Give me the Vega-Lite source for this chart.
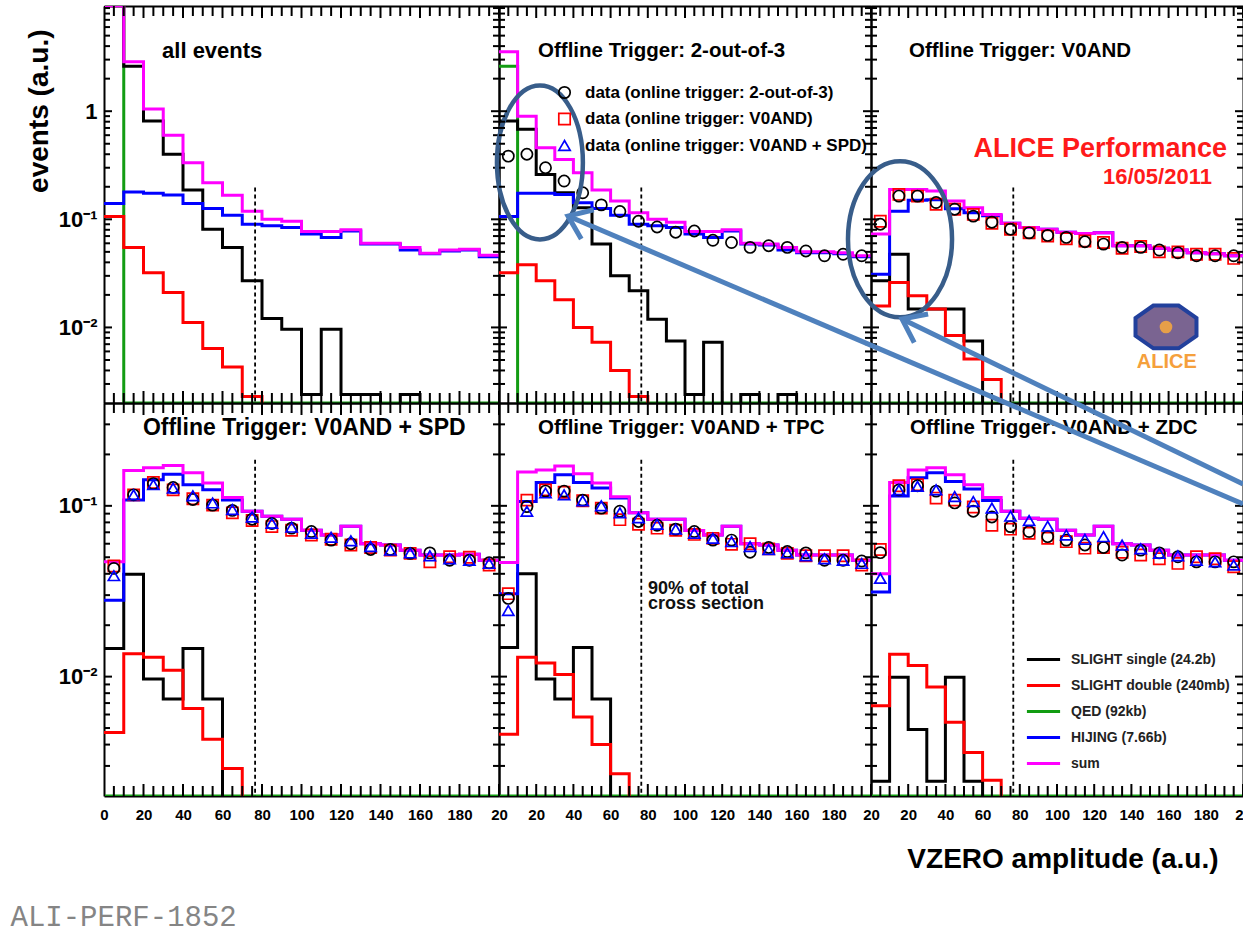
{
"$schema": "https://vega.github.io/schema/vega-lite/v6.json",
"background": "white",
"padding": {"left": 10, "top": 6, "right": 0, "bottom": 0},
"config": {"view": {"stroke": null}, "font": "Liberation Sans", "tick": {"thickness": 2, "opacity": 1, "color": "black"}},
"datasets": {
"xt": [
{"x":0,"m":"xM"},{"x":5,"m":"xm"},{"x":10,"m":"xm"},{"x":15,"m":"xm"},{"x":20,"m":"xM"},{"x":25,"m":"xm"},{"x":30,"m":"xm"},{"x":35,"m":"xm"},
{"x":40,"m":"xM"},{"x":45,"m":"xm"},{"x":50,"m":"xm"},{"x":55,"m":"xm"},{"x":60,"m":"xM"},{"x":65,"m":"xm"},{"x":70,"m":"xm"},{"x":75,"m":"xm"},
{"x":80,"m":"xM"},{"x":85,"m":"xm"},{"x":90,"m":"xm"},{"x":95,"m":"xm"},{"x":100,"m":"xM"},{"x":105,"m":"xm"},{"x":110,"m":"xm"},{"x":115,"m":"xm"},
{"x":120,"m":"xM"},{"x":125,"m":"xm"},{"x":130,"m":"xm"},{"x":135,"m":"xm"},{"x":140,"m":"xM"},{"x":145,"m":"xm"},{"x":150,"m":"xm"},{"x":155,"m":"xm"},
{"x":160,"m":"xM"},{"x":165,"m":"xm"},{"x":170,"m":"xm"},{"x":175,"m":"xm"},{"x":180,"m":"xM"},{"x":185,"m":"xm"},{"x":190,"m":"xm"},{"x":195,"m":"xm"},{"x":200,"m":"xM"}
],
"yt": [
{"y":0.003,"m":"ym"},{"y":0.004,"m":"ym"},{"y":0.005,"m":"ym"},{"y":0.006,"m":"ym"},{"y":0.007,"m":"ym"},{"y":0.008,"m":"ym"},{"y":0.009,"m":"ym"},
{"y":0.01,"m":"yM"},{"y":0.02,"m":"ym"},{"y":0.03,"m":"ym"},{"y":0.04,"m":"ym"},{"y":0.05,"m":"ym"},{"y":0.06,"m":"ym"},{"y":0.07,"m":"ym"},{"y":0.08,"m":"ym"},{"y":0.09,"m":"ym"},
{"y":0.1,"m":"yM"},{"y":0.2,"m":"ym"},{"y":0.3,"m":"ym"},{"y":0.4,"m":"ym"},{"y":0.5,"m":"ym"},{"y":0.6,"m":"ym"},{"y":0.7,"m":"ym"},{"y":0.8,"m":"ym"},{"y":0.9,"m":"ym"},
{"y":1,"m":"yM"},{"y":2,"m":"ym"},{"y":3,"m":"ym"},{"y":4,"m":"ym"},{"y":5,"m":"ym"},{"y":6,"m":"ym"},{"y":7,"m":"ym"},{"y":8,"m":"ym"},{"y":9,"m":"ym"}
],
"hist": [
{"p":1,"x":0,"s":20,"d":0.106,"q":9.4,"h":0.14,"t":9.4},
{"p":1,"x":10,"s":2.6,"d":0.055,"q":0.002,"h":0.179,"t":2.86},
{"p":1,"x":20,"s":0.81,"d":0.032,"q":0.002,"h":0.174,"t":1.05},
{"p":1,"x":30,"s":0.4,"d":0.021,"q":0.002,"h":0.168,"t":0.6},
{"p":1,"x":40,"s":0.187,"d":0.0111,"q":0.002,"h":0.14,"t":0.334},
{"p":1,"x":50,"s":0.081,"d":0.0064,"q":0.002,"h":0.126,"t":0.218},
{"p":1,"x":60,"s":0.055,"d":0.0043,"q":0.002,"h":0.109,"t":0.167},
{"p":1,"x":70,"s":0.027,"d":0.0023,"q":0.002,"h":0.09,"t":0.119},
{"p":1,"x":80,"s":0.0121,"d":0.0005,"q":0.002,"h":0.087,"t":0.1},
{"p":1,"x":90,"s":0.0096,"d":0.0005,"q":0.002,"h":0.084,"t":0.096},
{"p":1,"x":100,"s":0.0024,"d":0.0005,"q":0.002,"h":0.073,"t":0.077},
{"p":1,"x":110,"s":0.0096,"d":0.0005,"q":0.002,"h":0.068,"t":0.077},
{"p":1,"x":120,"s":0.0024,"d":0.0005,"q":0.002,"h":0.078,"t":0.08},
{"p":1,"x":130,"s":0.0024,"d":0.0005,"q":0.002,"h":0.059,"t":0.06},
{"p":1,"x":140,"s":0.0005,"d":0.0005,"q":0.002,"h":0.059,"t":0.06},
{"p":1,"x":150,"s":0.0024,"d":0.0005,"q":0.002,"h":0.052,"t":0.055},
{"p":1,"x":160,"s":0.0005,"d":0.0005,"q":0.002,"h":0.048,"t":0.0485},
{"p":1,"x":170,"s":0.0005,"d":0.0005,"q":0.002,"h":0.051,"t":0.052},
{"p":1,"x":180,"s":0.0005,"d":0.0005,"q":0.002,"h":0.052,"t":0.053},
{"p":1,"x":190,"s":0.0005,"d":0.0005,"q":0.002,"h":0.045,"t":0.0465},
{"p":1,"x":200,"s":0.0005,"d":0.0005,"q":0.002,"h":0.045,"t":0.0465},
{"p":2,"x":0,"s":0.81,"d":0.032,"q":2.6,"h":0.106,"t":3.54},
{"p":2,"x":10,"s":0.68,"d":0.038,"q":0.002,"h":0.174,"t":0.9},
{"p":2,"x":20,"s":0.26,"d":0.027,"q":0.002,"h":0.174,"t":0.46},
{"p":2,"x":30,"s":0.176,"d":0.018,"q":0.002,"h":0.17,"t":0.358},
{"p":2,"x":40,"s":0.128,"d":0.01,"q":0.002,"h":0.142,"t":0.27},
{"p":2,"x":50,"s":0.059,"d":0.0073,"q":0.002,"h":0.126,"t":0.187},
{"p":2,"x":60,"s":0.03,"d":0.004,"q":0.002,"h":0.109,"t":0.148},
{"p":2,"x":70,"s":0.0218,"d":0.0023,"q":0.002,"h":0.09,"t":0.115},
{"p":2,"x":80,"s":0.0119,"d":0.0005,"q":0.002,"h":0.087,"t":0.1},
{"p":2,"x":90,"s":0.0075,"d":0.0005,"q":0.002,"h":0.084,"t":0.094},
{"p":2,"x":100,"s":0.0024,"d":0.0005,"q":0.002,"h":0.073,"t":0.077},
{"p":2,"x":110,"s":0.0073,"d":0.0005,"q":0.002,"h":0.068,"t":0.077},
{"p":2,"x":120,"s":0.0005,"d":0.0005,"q":0.002,"h":0.078,"t":0.08},
{"p":2,"x":130,"s":0.0024,"d":0.0005,"q":0.002,"h":0.059,"t":0.06},
{"p":2,"x":140,"s":0.0005,"d":0.0005,"q":0.002,"h":0.058,"t":0.059},
{"p":2,"x":150,"s":0.0024,"d":0.0005,"q":0.002,"h":0.052,"t":0.055},
{"p":2,"x":160,"s":0.0005,"d":0.0005,"q":0.002,"h":0.049,"t":0.05},
{"p":2,"x":170,"s":0.0005,"d":0.0005,"q":0.002,"h":0.049,"t":0.05},
{"p":2,"x":180,"s":0.0005,"d":0.0005,"q":0.002,"h":0.048,"t":0.049},
{"p":2,"x":190,"s":0.0005,"d":0.0005,"q":0.002,"h":0.045,"t":0.046},
{"p":2,"x":200,"s":0.0005,"d":0.0005,"q":0.002,"h":0.045,"t":0.046},
{"p":3,"x":0,"s":0.027,"d":0.0158,"q":0.002,"h":0.031,"t":0.073},
{"p":3,"x":10,"s":0.0475,"d":0.026,"q":0.002,"h":0.119,"t":0.189},
{"p":3,"x":20,"s":0.0148,"d":0.0196,"q":0.002,"h":0.15,"t":0.189},
{"p":3,"x":30,"s":0.0148,"d":0.0148,"q":0.002,"h":0.152,"t":0.183},
{"p":3,"x":40,"s":0.0148,"d":0.0084,"q":0.002,"h":0.125,"t":0.148},
{"p":3,"x":50,"s":0.0075,"d":0.0051,"q":0.002,"h":0.115,"t":0.128},
{"p":3,"x":60,"s":0.0005,"d":0.0033,"q":0.002,"h":0.108,"t":0.111},
{"p":3,"x":70,"s":0.0005,"d":0.0005,"q":0.002,"h":0.092,"t":0.092},
{"p":3,"x":80,"s":0.0005,"d":0.0005,"q":0.002,"h":0.084,"t":0.084},
{"p":3,"x":90,"s":0.0005,"d":0.0005,"q":0.002,"h":0.081,"t":0.081},
{"p":3,"x":100,"s":0.0005,"d":0.0005,"q":0.002,"h":0.076,"t":0.076},
{"p":3,"x":110,"s":0.0005,"d":0.0005,"q":0.002,"h":0.074,"t":0.074},
{"p":3,"x":120,"s":0.0005,"d":0.0005,"q":0.002,"h":0.075,"t":0.075},
{"p":3,"x":130,"s":0.0005,"d":0.0005,"q":0.002,"h":0.057,"t":0.057},
{"p":3,"x":140,"s":0.0005,"d":0.0005,"q":0.002,"h":0.057,"t":0.057},
{"p":3,"x":150,"s":0.0005,"d":0.0005,"q":0.002,"h":0.054,"t":0.054},
{"p":3,"x":160,"s":0.0005,"d":0.0005,"q":0.002,"h":0.052,"t":0.052},
{"p":3,"x":170,"s":0.0005,"d":0.0005,"q":0.002,"h":0.049,"t":0.049},
{"p":3,"x":180,"s":0.0005,"d":0.0005,"q":0.002,"h":0.048,"t":0.048},
{"p":3,"x":190,"s":0.0005,"d":0.0005,"q":0.002,"h":0.046,"t":0.046},
{"p":3,"x":200,"s":0.0005,"d":0.0005,"q":0.002,"h":0.046,"t":0.046},
{"p":4,"x":0,"s":0.0146,"d":0.0047,"q":0.002,"h":0.028,"t":0.047},
{"p":4,"x":10,"s":0.0397,"d":0.0136,"q":0.002,"h":0.108,"t":0.161},
{"p":4,"x":20,"s":0.0097,"d":0.013,"q":0.002,"h":0.142,"t":0.167},
{"p":4,"x":30,"s":0.0074,"d":0.0109,"q":0.002,"h":0.153,"t":0.172},
{"p":4,"x":40,"s":0.0146,"d":0.0065,"q":0.002,"h":0.133,"t":0.156},
{"p":4,"x":50,"s":0.0074,"d":0.0043,"q":0.002,"h":0.124,"t":0.136},
{"p":4,"x":60,"s":0.0005,"d":0.0029,"q":0.002,"h":0.108,"t":0.112},
{"p":4,"x":70,"s":0.0005,"d":0.0005,"q":0.002,"h":0.093,"t":0.093},
{"p":4,"x":80,"s":0.0005,"d":0.0005,"q":0.002,"h":0.087,"t":0.087},
{"p":4,"x":90,"s":0.0005,"d":0.0005,"q":0.002,"h":0.0835,"t":0.0835},
{"p":4,"x":100,"s":0.0005,"d":0.0005,"q":0.002,"h":0.072,"t":0.072},
{"p":4,"x":110,"s":0.0005,"d":0.0005,"q":0.002,"h":0.0675,"t":0.0675},
{"p":4,"x":120,"s":0.0005,"d":0.0005,"q":0.002,"h":0.076,"t":0.076},
{"p":4,"x":130,"s":0.0005,"d":0.0005,"q":0.002,"h":0.06,"t":0.06},
{"p":4,"x":140,"s":0.0005,"d":0.0005,"q":0.002,"h":0.059,"t":0.059},
{"p":4,"x":150,"s":0.0005,"d":0.0005,"q":0.002,"h":0.055,"t":0.055},
{"p":4,"x":160,"s":0.0005,"d":0.0005,"q":0.002,"h":0.0515,"t":0.0515},
{"p":4,"x":170,"s":0.0005,"d":0.0005,"q":0.002,"h":0.0515,"t":0.0515},
{"p":4,"x":180,"s":0.0005,"d":0.0005,"q":0.002,"h":0.052,"t":0.052},
{"p":4,"x":190,"s":0.0005,"d":0.0005,"q":0.002,"h":0.048,"t":0.048},
{"p":4,"x":200,"s":0.0005,"d":0.0005,"q":0.002,"h":0.048,"t":0.048},
{"p":5,"x":0,"s":0.0148,"d":0.0046,"q":0.002,"h":0.0306,"t":0.0465},
{"p":5,"x":10,"s":0.04,"d":0.013,"q":0.002,"h":0.106,"t":0.158},
{"p":5,"x":20,"s":0.0097,"d":0.012,"q":0.002,"h":0.137,"t":0.162},
{"p":5,"x":30,"s":0.0074,"d":0.0103,"q":0.002,"h":0.152,"t":0.171},
{"p":5,"x":40,"s":0.0148,"d":0.0058,"q":0.002,"h":0.137,"t":0.154},
{"p":5,"x":50,"s":0.0074,"d":0.004,"q":0.002,"h":0.127,"t":0.136},
{"p":5,"x":60,"s":0.0005,"d":0.0027,"q":0.002,"h":0.111,"t":0.113},
{"p":5,"x":70,"s":0.0005,"d":0.0005,"q":0.002,"h":0.091,"t":0.091},
{"p":5,"x":80,"s":0.0005,"d":0.0005,"q":0.002,"h":0.0835,"t":0.0835},
{"p":5,"x":90,"s":0.0005,"d":0.0005,"q":0.002,"h":0.0835,"t":0.0835},
{"p":5,"x":100,"s":0.0005,"d":0.0005,"q":0.002,"h":0.0717,"t":0.0717},
{"p":5,"x":110,"s":0.0005,"d":0.0005,"q":0.002,"h":0.0675,"t":0.0675},
{"p":5,"x":120,"s":0.0005,"d":0.0005,"q":0.002,"h":0.076,"t":0.076},
{"p":5,"x":130,"s":0.0005,"d":0.0005,"q":0.002,"h":0.06,"t":0.06},
{"p":5,"x":140,"s":0.0005,"d":0.0005,"q":0.002,"h":0.059,"t":0.059},
{"p":5,"x":150,"s":0.0005,"d":0.0005,"q":0.002,"h":0.055,"t":0.055},
{"p":5,"x":160,"s":0.0005,"d":0.0005,"q":0.002,"h":0.0515,"t":0.0515},
{"p":5,"x":170,"s":0.0005,"d":0.0005,"q":0.002,"h":0.0515,"t":0.0515},
{"p":5,"x":180,"s":0.0005,"d":0.0005,"q":0.002,"h":0.0515,"t":0.0515},
{"p":5,"x":190,"s":0.0005,"d":0.0005,"q":0.002,"h":0.048,"t":0.048},
{"p":5,"x":200,"s":0.0005,"d":0.0005,"q":0.002,"h":0.048,"t":0.048},
{"p":6,"x":0,"s":0.00244,"d":0.00675,"q":0.002,"h":0.0313,"t":0.04},
{"p":6,"x":10,"s":0.0099,"d":0.0135,"q":0.002,"h":0.114,"t":0.137},
{"p":6,"x":20,"s":0.0049,"d":0.0116,"q":0.002,"h":0.146,"t":0.162},
{"p":6,"x":30,"s":0.00244,"d":0.0087,"q":0.002,"h":0.156,"t":0.167},
{"p":6,"x":40,"s":0.0099,"d":0.0054,"q":0.002,"h":0.139,"t":0.152},
{"p":6,"x":50,"s":0.00244,"d":0.0036,"q":0.002,"h":0.1254,"t":0.133},
{"p":6,"x":60,"s":0.0005,"d":0.00247,"q":0.002,"h":0.1076,"t":0.112},
{"p":6,"x":70,"s":0.0005,"d":0.0005,"q":0.002,"h":0.093,"t":0.093},
{"p":6,"x":80,"s":0.0005,"d":0.0005,"q":0.002,"h":0.0847,"t":0.0847},
{"p":6,"x":90,"s":0.0005,"d":0.0005,"q":0.002,"h":0.0835,"t":0.0835},
{"p":6,"x":100,"s":0.0005,"d":0.0005,"q":0.002,"h":0.072,"t":0.072},
{"p":6,"x":110,"s":0.0005,"d":0.0005,"q":0.002,"h":0.0675,"t":0.0675},
{"p":6,"x":120,"s":0.0005,"d":0.0005,"q":0.002,"h":0.076,"t":0.076},
{"p":6,"x":130,"s":0.0005,"d":0.0005,"q":0.002,"h":0.06,"t":0.06},
{"p":6,"x":140,"s":0.0005,"d":0.0005,"q":0.002,"h":0.059,"t":0.059},
{"p":6,"x":150,"s":0.0005,"d":0.0005,"q":0.002,"h":0.055,"t":0.055},
{"p":6,"x":160,"s":0.0005,"d":0.0005,"q":0.002,"h":0.0515,"t":0.0515},
{"p":6,"x":170,"s":0.0005,"d":0.0005,"q":0.002,"h":0.0515,"t":0.0515},
{"p":6,"x":180,"s":0.0005,"d":0.0005,"q":0.002,"h":0.0515,"t":0.0515},
{"p":6,"x":190,"s":0.0005,"d":0.0005,"q":0.002,"h":0.048,"t":0.048},
{"p":6,"x":200,"s":0.0005,"d":0.0005,"q":0.002,"h":0.048,"t":0.048}
],
"pts": [
{"p":2,"x":5,"a":0.384},{"p":2,"x":15,"a":0.4},{"p":2,"x":25,"a":0.3},{"p":2,"x":35,"a":0.226},{"p":2,"x":45,"a":0.176},
{"p":2,"x":55,"a":0.136},{"p":2,"x":65,"a":0.118},{"p":2,"x":75,"a":0.096},{"p":2,"x":85,"a":0.085},{"p":2,"x":95,"a":0.076},
{"p":2,"x":105,"a":0.078},{"p":2,"x":115,"a":0.064},{"p":2,"x":125,"a":0.061},{"p":2,"x":135,"a":0.055},{"p":2,"x":145,"a":0.057},
{"p":2,"x":155,"a":0.055},{"p":2,"x":165,"a":0.051},{"p":2,"x":175,"a":0.046},{"p":2,"x":185,"a":0.0475},{"p":2,"x":195,"a":0.046},
{"p":3,"x":5,"a":0.09,"v":0.096},{"p":3,"x":15,"a":0.164,"v":0.17},{"p":3,"x":25,"a":0.164,"v":0.164},{"p":3,"x":35,"a":0.143,"v":0.138},
{"p":3,"x":45,"a":0.124,"v":0.124},{"p":3,"x":55,"a":0.107,"v":0.111},{"p":3,"x":65,"a":0.094,"v":0.092},{"p":3,"x":75,"a":0.081,"v":0.081},
{"p":3,"x":85,"a":0.075,"v":0.075},{"p":3,"x":95,"a":0.071,"v":0.07},{"p":3,"x":105,"a":0.068,"v":0.066},{"p":3,"x":115,"a":0.062,"v":0.063},
{"p":3,"x":125,"a":0.059,"v":0.061},{"p":3,"x":135,"a":0.055,"v":0.054},{"p":3,"x":145,"a":0.055,"v":0.056},{"p":3,"x":155,"a":0.052,"v":0.05},
{"p":3,"x":165,"a":0.049,"v":0.05},{"p":3,"x":175,"a":0.046,"v":0.0475},{"p":3,"x":185,"a":0.046,"v":0.0475},{"p":3,"x":195,"a":0.046,"v":0.0435},
{"p":4,"x":5,"a":0.043,"v":0.0445,"sp":0.039},{"p":4,"x":15,"a":0.116,"v":0.116,"sp":0.116},{"p":4,"x":25,"a":0.135,"v":0.137,"sp":0.133},
{"p":4,"x":35,"a":0.128,"v":0.124,"sp":0.127},{"p":4,"x":45,"a":0.109,"v":0.11,"sp":0.1145},{"p":4,"x":55,"a":0.101,"v":0.101,"sp":0.104},
{"p":4,"x":65,"a":0.094,"v":0.091,"sp":0.095},{"p":4,"x":75,"a":0.0835,"v":0.082,"sp":0.086},{"p":4,"x":85,"a":0.0788,"v":0.0756,"sp":0.079},
{"p":4,"x":95,"a":0.074,"v":0.072,"sp":0.075},{"p":4,"x":105,"a":0.0707,"v":0.0675,"sp":0.069},{"p":4,"x":115,"a":0.063,"v":0.0637,"sp":0.0655},
{"p":4,"x":125,"a":0.06,"v":0.059,"sp":0.0625},{"p":4,"x":135,"a":0.0555,"v":0.057,"sp":0.0577},{"p":4,"x":145,"a":0.0555,"v":0.055,"sp":0.055},
{"p":4,"x":155,"a":0.0527,"v":0.0527,"sp":0.053},{"p":4,"x":165,"a":0.053,"v":0.047,"sp":0.051},{"p":4,"x":175,"a":0.048,"v":0.0503,"sp":0.049},
{"p":4,"x":185,"a":0.048,"v":0.05,"sp":0.048},{"p":4,"x":195,"a":0.0464,"v":0.045,"sp":0.046},
{"p":5,"x":5,"a":0.0287,"v":0.0306,"sp":0.0244},{"p":5,"x":15,"a":0.099,"v":0.108,"sp":0.093},{"p":5,"x":25,"a":0.122,"v":0.124,"sp":0.119},
{"p":5,"x":35,"a":0.122,"v":0.12,"sp":0.116},{"p":5,"x":45,"a":0.108,"v":0.107,"sp":0.107},{"p":5,"x":55,"a":0.097,"v":0.097,"sp":0.1},
{"p":5,"x":65,"a":0.093,"v":0.083,"sp":0.091},{"p":5,"x":75,"a":0.081,"v":0.078,"sp":0.085},{"p":5,"x":85,"a":0.077,"v":0.074,"sp":0.078},
{"p":5,"x":95,"a":0.073,"v":0.072,"sp":0.073},{"p":5,"x":105,"a":0.0707,"v":0.068,"sp":0.069},{"p":5,"x":115,"a":0.063,"v":0.0645,"sp":0.0645},
{"p":5,"x":125,"a":0.063,"v":0.0595,"sp":0.0617},{"p":5,"x":135,"a":0.0535,"v":0.06,"sp":0.0577},{"p":5,"x":145,"a":0.057,"v":0.056,"sp":0.0555},
{"p":5,"x":155,"a":0.054,"v":0.0527,"sp":0.053},{"p":5,"x":165,"a":0.053,"v":0.051,"sp":0.051},{"p":5,"x":175,"a":0.048,"v":0.051,"sp":0.049},
{"p":5,"x":185,"a":0.048,"v":0.051,"sp":0.048},{"p":5,"x":195,"a":0.0475,"v":0.045,"sp":0.046},
{"p":6,"x":5,"a":0.0532,"v":0.0555,"sp":0.0376},{"p":6,"x":15,"a":0.124,"v":0.131,"sp":0.124},{"p":6,"x":25,"a":0.131,"v":0.133,"sp":0.13},
{"p":6,"x":35,"a":0.122,"v":0.111,"sp":0.124},{"p":6,"x":45,"a":0.104,"v":0.108,"sp":0.1135},{"p":6,"x":55,"a":0.093,"v":0.0985,"sp":0.106},
{"p":6,"x":65,"a":0.086,"v":0.077,"sp":0.097},{"p":6,"x":75,"a":0.0756,"v":0.073,"sp":0.087},{"p":6,"x":85,"a":0.0707,"v":0.069,"sp":0.082},
{"p":6,"x":95,"a":0.066,"v":0.0645,"sp":0.076},{"p":6,"x":105,"a":0.063,"v":0.0617,"sp":0.0675},{"p":6,"x":115,"a":0.059,"v":0.0565,"sp":0.0637},
{"p":6,"x":125,"a":0.057,"v":0.057,"sp":0.066},{"p":6,"x":135,"a":0.0515,"v":0.0535,"sp":0.059},{"p":6,"x":145,"a":0.055,"v":0.0515,"sp":0.056},
{"p":6,"x":155,"a":0.053,"v":0.049,"sp":0.0527},{"p":6,"x":165,"a":0.0503,"v":0.046,"sp":0.051},{"p":6,"x":175,"a":0.047,"v":0.0503,"sp":0.048},
{"p":6,"x":185,"a":0.047,"v":0.049,"sp":0.047},{"p":6,"x":195,"a":0.047,"v":0.044,"sp":0.045}
]
},
"columns": 3,
"spacing": 0,
"bounds": "flush",
"resolve": {"scale": {"color": "independent", "stroke": "independent", "shape": "independent"}},
"concat": [
{
"width": 395, "height": 397,
"layer": [
{"data": {"name": "hist"}, "transform": [{"filter": "datum.p == 1"}, {"fold": ["q"], "as": ["k", "v"]}],
 "mark": {"type": "line", "interpolate": "step-after", "strokeWidth": 3, "clip": true},
 "encoding": {
  "x": {"field": "x", "type": "quantitative", "scale": {"domain": [0, 200], "nice": false, "zero": false},
   "axis": {"orient": "bottom", "ticks": false, "domain": true, "domainColor": "black", "domainWidth": 2, "grid": false, "labels": false, "title": null}},
  "y": {"field": "v", "type": "quantitative", "scale": {"type": "log", "domain": [0.002, 9.4], "nice": false},
   "axis": {"orient": "left", "values": [0.01, 0.1, 1], "ticks": false, "domain": true, "domainColor": "black", "domainWidth": 2, "grid": false,
    "labelExpr": "datum.value == 1 ? '1' : datum.value == 0.1 ? '10⁻¹' : '10⁻²'", "labelPadding": 7, "labelFont": "Liberation Sans", "labelFontWeight": "bold", "labelFontSize": 22, "labelColor": "black", "labelOverlap": false, "labelFlush": false, "labelBound": false,
    "title": "events (a.u.)", "titleFont": "Liberation Sans", "titleFontSize": 28, "titleFontWeight": "bold", "titleColor": "black", "titleAnchor": "end", "titleAlign": "right", "titleBaseline": "bottom", "titleX": -51, "titleY": 23}},
  "color": {"field": "k", "type": "nominal", "scale": {"domain": ["s","d","q","h","t"], "range": ["#000000","#ff0000","#129c12","#0000ff","#ff00ff"]}, "legend": null}
 }},
{"data": {"name": "hist"}, "transform": [{"filter": "datum.p == 1"}, {"fold": ["s","d","h","t"], "as": ["k", "v"]}],
 "mark": {"type": "line", "interpolate": "step-after", "strokeWidth": 3, "clip": true},
 "encoding": {
  "x": {"field": "x", "type": "quantitative", "scale": {"domain": [0, 200], "nice": false, "zero": false},
   "axis": {"orient": "top", "ticks": false, "domain": true, "domainColor": "black", "domainWidth": 2, "grid": false, "labels": false, "title": null}},
  "y": {"field": "v", "type": "quantitative", "scale": {"type": "log", "domain": [0.002, 9.4], "nice": false},
   "axis": {"orient": "right", "ticks": false, "domain": true, "domainColor": "black", "domainWidth": 2, "grid": false, "labels": false, "title": null}},
  "color": {"field": "k", "type": "nominal", "scale": {"domain": ["s","d","q","h","t"], "range": ["#000000","#ff0000","#129c12","#0000ff","#ff00ff"]}, "legend": null}
 }},
{"data": {"values": [{}]},
 "mark": {"type": "rule", "strokeDash": [4, 3], "strokeWidth": 1.8, "color": "black"},
 "encoding": {
  "x": {"datum": 76.5, "type": "quantitative", "scale": {"domain": [0, 200], "nice": false, "zero": false}, "axis": null},
  "y": {"datum": 0.197, "type": "quantitative", "scale": {"type": "log", "domain": [0.002, 9.4], "nice": false}, "axis": null},
  "y2": {"datum": 0.002}
 }},
{"data": {"values": [{}]},
 "mark": {"type": "text", "text": "all events", "align": "left", "baseline": "middle", "font": "Liberation Sans", "fontSize": 22, "fontWeight": "bold", "color": "black"},
 "encoding": {
  "x": {"datum": 29.4, "type": "quantitative", "scale": {"domain": [0, 200], "nice": false, "zero": false}, "axis": null},
  "y": {"datum": 3.6, "type": "quantitative", "scale": {"type": "log", "domain": [0.002, 9.4], "nice": false}, "axis": null}
 }},
{"data": {"name": "xt"}, "mark": {"type": "tick", "orient": "vertical", "thickness": 2, "color": "black", "opacity": 1, "clip": true},
 "encoding": {
  "x": {"field": "x", "type": "quantitative", "scale": {"domain": [0, 200], "nice": false, "zero": false}, "axis": null},
  "y": {"datum": 0.002, "type": "quantitative", "scale": {"type": "log", "domain": [0.002, 9.4], "nice": false}, "axis": null},
  "size": {"field": "m", "type": "nominal", "scale": {"domain": ["xM","xm","yM","ym"], "range": [24, 12, 30, 15]}, "legend": null}
 }},
{"data": {"name": "xt"}, "mark": {"type": "tick", "orient": "vertical", "thickness": 2, "color": "black", "opacity": 1, "clip": true},
 "encoding": {
  "x": {"field": "x", "type": "quantitative", "scale": {"domain": [0, 200], "nice": false, "zero": false}, "axis": null},
  "y": {"datum": 9.4, "type": "quantitative", "scale": {"type": "log", "domain": [0.002, 9.4], "nice": false}, "axis": null},
  "size": {"field": "m", "type": "nominal", "scale": {"domain": ["xM","xm","yM","ym"], "range": [24, 12, 30, 15]}, "legend": null}
 }},
{"data": {"name": "yt"}, "mark": {"type": "tick", "orient": "horizontal", "thickness": 2, "color": "black", "opacity": 1, "clip": true},
 "encoding": {
  "y": {"field": "y", "type": "quantitative", "scale": {"type": "log", "domain": [0.002, 9.4], "nice": false}, "axis": null},
  "x": {"datum": 0, "type": "quantitative", "scale": {"domain": [0, 200], "nice": false, "zero": false}, "axis": null},
  "size": {"field": "m", "type": "nominal", "scale": {"domain": ["xM","xm","yM","ym"], "range": [24, 12, 30, 15]}, "legend": null}
 }},
{"data": {"name": "yt"}, "mark": {"type": "tick", "orient": "horizontal", "thickness": 2, "color": "black", "opacity": 1, "clip": true},
 "encoding": {
  "y": {"field": "y", "type": "quantitative", "scale": {"type": "log", "domain": [0.002, 9.4], "nice": false}, "axis": null},
  "x": {"datum": 200, "type": "quantitative", "scale": {"domain": [0, 200], "nice": false, "zero": false}, "axis": null},
  "size": {"field": "m", "type": "nominal", "scale": {"domain": ["xM","xm","yM","ym"], "range": [24, 12, 30, 15]}, "legend": null}
 }}
],
"resolve": {"axis": {"x": "independent", "y": "independent"}}
},
{
"width": 372, "height": 397,
"layer": [
{"data": {"name": "hist"}, "transform": [{"filter": "datum.p == 2"}, {"fold": ["q"], "as": ["k", "v"]}],
 "mark": {"type": "line", "interpolate": "step-after", "strokeWidth": 3, "clip": true},
 "encoding": {
  "x": {"field": "x", "type": "quantitative", "scale": {"domain": [0, 200], "nice": false, "zero": false},
   "axis": {"orient": "bottom", "ticks": false, "domain": true, "domainColor": "black", "domainWidth": 2, "grid": false, "labels": false, "title": null}},
  "y": {"field": "v", "type": "quantitative", "scale": {"type": "log", "domain": [0.002, 9.4], "nice": false},
   "axis": {"orient": "left", "ticks": false, "domain": true, "domainColor": "black", "domainWidth": 2, "grid": false, "labels": false, "title": null}},
  "color": {"field": "k", "type": "nominal", "scale": {"domain": ["s","d","q","h","t"], "range": ["#000000","#ff0000","#129c12","#0000ff","#ff00ff"]}, "legend": null}
 }},
{"data": {"name": "hist"}, "transform": [{"filter": "datum.p == 2"}, {"fold": ["s","d","h","t"], "as": ["k", "v"]}],
 "mark": {"type": "line", "interpolate": "step-after", "strokeWidth": 3, "clip": true},
 "encoding": {
  "x": {"field": "x", "type": "quantitative", "scale": {"domain": [0, 200], "nice": false, "zero": false},
   "axis": {"orient": "top", "ticks": false, "domain": true, "domainColor": "black", "domainWidth": 2, "grid": false, "labels": false, "title": null}},
  "y": {"field": "v", "type": "quantitative", "scale": {"type": "log", "domain": [0.002, 9.4], "nice": false},
   "axis": {"orient": "right", "ticks": false, "domain": true, "domainColor": "black", "domainWidth": 2, "grid": false, "labels": false, "title": null}},
  "color": {"field": "k", "type": "nominal", "scale": {"domain": ["s","d","q","h","t"], "range": ["#000000","#ff0000","#129c12","#0000ff","#ff00ff"]}, "legend": null}
 }},
{"data": {"values": [{}]},
 "mark": {"type": "rule", "strokeDash": [4, 3], "strokeWidth": 1.8, "color": "black"},
 "encoding": {
  "x": {"datum": 76.5, "type": "quantitative", "scale": {"domain": [0, 200], "nice": false, "zero": false}, "axis": null},
  "y": {"datum": 0.197, "type": "quantitative", "scale": {"type": "log", "domain": [0.002, 9.4], "nice": false}, "axis": null},
  "y2": {"datum": 0.002}
 }},
{"data": {"values": [{}]},
 "mark": {"type": "text", "text": "Offline Trigger: 2-out-of-3", "align": "left", "baseline": "middle", "font": "Liberation Sans", "fontSize": 20.5, "fontWeight": "bold", "color": "black"},
 "encoding": {
  "x": {"datum": 21, "type": "quantitative", "scale": {"domain": [0, 200], "nice": false, "zero": false}, "axis": null},
  "y": {"datum": 3.6, "type": "quantitative", "scale": {"type": "log", "domain": [0.002, 9.4], "nice": false}, "axis": null}
 }},
{"data": {"name": "pts"}, "transform": [{"filter": "datum.p == 2"}, {"fold": ["v","a","sp"], "as": ["k", "val"]}, {"filter": "isValid(datum.val)"}],
 "mark": {"type": "point", "filled": false, "size": 125, "strokeWidth": 1.7, "opacity": 1},
 "encoding": {
  "x": {"field": "x", "type": "quantitative", "scale": {"domain": [0, 200], "nice": false, "zero": false}, "axis": null},
  "y": {"field": "val", "type": "quantitative", "scale": {"type": "log", "domain": [0.002, 9.4], "nice": false}, "axis": null},
  "shape": {"field": "k", "type": "nominal", "scale": {"domain": ["a","v","sp"], "range": ["circle","square","triangle-up"]},
   "legend": {"orient": "none", "legendX": 57, "legendY": 78, "title": null, "padding": 0, "labelExpr": "datum.label == 'a' ? 'data (online trigger: 2-out-of-3)' : datum.label == 'v' ? 'data (online trigger: V0AND)' : 'data (online trigger: V0AND + SPD)'", "labelFont": "Liberation Sans", "labelFontSize": 17, "labelFontWeight": "bold", "labelColor": "black", "labelLimit": 400, "labelOffset": 12, "symbolSize": 130, "symbolStrokeWidth": 1.7, "symbolFillColor": "transparent", "rowPadding": 7.5}},
  "stroke": {"field": "k", "type": "nominal", "scale": {"domain": ["a","v","sp"], "range": ["black","red","blue"]},
   "legend": {"orient": "none", "legendX": 57, "legendY": 78, "title": null, "padding": 0, "labelExpr": "datum.label == 'a' ? 'data (online trigger: 2-out-of-3)' : datum.label == 'v' ? 'data (online trigger: V0AND)' : 'data (online trigger: V0AND + SPD)'", "labelFont": "Liberation Sans", "labelFontSize": 17, "labelFontWeight": "bold", "labelColor": "black", "labelLimit": 400, "labelOffset": 12, "symbolSize": 130, "symbolStrokeWidth": 1.7, "symbolFillColor": "transparent", "rowPadding": 7.5}}
 }},
{"data": {"values": [{}]},
 "mark": {"type": "point", "shape": "M0,-1C0.308,-1,0.558,-0.552,0.558,0C0.558,0.552,0.308,1,0,1C-0.308,1,-0.558,0.552,-0.558,0C-0.558,-0.552,-0.308,-1,0,-1Z", "size": 23716, "filled": false, "stroke": "#385d8a", "strokeWidth": 4.5, "opacity": 1},
 "encoding": {
  "x": {"datum": 22, "type": "quantitative", "scale": {"domain": [0, 200], "nice": false, "zero": false}, "axis": null},
  "y": {"datum": 0.336, "type": "quantitative", "scale": {"type": "log", "domain": [0.002, 9.4], "nice": false}, "axis": null}
 }},
{"data": {"name": "xt"}, "mark": {"type": "tick", "orient": "vertical", "thickness": 2, "color": "black", "opacity": 1, "clip": true},
 "encoding": {
  "x": {"field": "x", "type": "quantitative", "scale": {"domain": [0, 200], "nice": false, "zero": false}, "axis": null},
  "y": {"datum": 0.002, "type": "quantitative", "scale": {"type": "log", "domain": [0.002, 9.4], "nice": false}, "axis": null},
  "size": {"field": "m", "type": "nominal", "scale": {"domain": ["xM","xm","yM","ym"], "range": [24, 12, 30, 15]}, "legend": null}
 }},
{"data": {"name": "xt"}, "mark": {"type": "tick", "orient": "vertical", "thickness": 2, "color": "black", "opacity": 1, "clip": true},
 "encoding": {
  "x": {"field": "x", "type": "quantitative", "scale": {"domain": [0, 200], "nice": false, "zero": false}, "axis": null},
  "y": {"datum": 9.4, "type": "quantitative", "scale": {"type": "log", "domain": [0.002, 9.4], "nice": false}, "axis": null},
  "size": {"field": "m", "type": "nominal", "scale": {"domain": ["xM","xm","yM","ym"], "range": [24, 12, 30, 15]}, "legend": null}
 }},
{"data": {"name": "yt"}, "mark": {"type": "tick", "orient": "horizontal", "thickness": 2, "color": "black", "opacity": 1, "clip": true},
 "encoding": {
  "y": {"field": "y", "type": "quantitative", "scale": {"type": "log", "domain": [0.002, 9.4], "nice": false}, "axis": null},
  "x": {"datum": 0, "type": "quantitative", "scale": {"domain": [0, 200], "nice": false, "zero": false}, "axis": null},
  "size": {"field": "m", "type": "nominal", "scale": {"domain": ["xM","xm","yM","ym"], "range": [24, 12, 30, 15]}, "legend": null}
 }},
{"data": {"name": "yt"}, "mark": {"type": "tick", "orient": "horizontal", "thickness": 2, "color": "black", "opacity": 1, "clip": true},
 "encoding": {
  "y": {"field": "y", "type": "quantitative", "scale": {"type": "log", "domain": [0.002, 9.4], "nice": false}, "axis": null},
  "x": {"datum": 200, "type": "quantitative", "scale": {"domain": [0, 200], "nice": false, "zero": false}, "axis": null},
  "size": {"field": "m", "type": "nominal", "scale": {"domain": ["xM","xm","yM","ym"], "range": [24, 12, 30, 15]}, "legend": null}
 }}
],
"resolve": {"axis": {"x": "independent", "y": "independent"}}
},
{
"width": 372, "height": 397,
"layer": [
{"data": {"name": "hist"}, "transform": [{"filter": "datum.p == 3"}, {"fold": ["q"], "as": ["k", "v"]}],
 "mark": {"type": "line", "interpolate": "step-after", "strokeWidth": 3, "clip": true},
 "encoding": {
  "x": {"field": "x", "type": "quantitative", "scale": {"domain": [0, 200], "nice": false, "zero": false},
   "axis": {"orient": "bottom", "ticks": false, "domain": true, "domainColor": "black", "domainWidth": 2, "grid": false, "labels": false, "title": null}},
  "y": {"field": "v", "type": "quantitative", "scale": {"type": "log", "domain": [0.002, 9.4], "nice": false},
   "axis": {"orient": "left", "ticks": false, "domain": true, "domainColor": "black", "domainWidth": 2, "grid": false, "labels": false, "title": null}},
  "color": {"field": "k", "type": "nominal", "scale": {"domain": ["s","d","q","h","t"], "range": ["#000000","#ff0000","#129c12","#0000ff","#ff00ff"]}, "legend": null}
 }},
{"data": {"name": "hist"}, "transform": [{"filter": "datum.p == 3"}, {"fold": ["s","d","h","t"], "as": ["k", "v"]}],
 "mark": {"type": "line", "interpolate": "step-after", "strokeWidth": 3, "clip": true},
 "encoding": {
  "x": {"field": "x", "type": "quantitative", "scale": {"domain": [0, 200], "nice": false, "zero": false},
   "axis": {"orient": "top", "ticks": false, "domain": true, "domainColor": "black", "domainWidth": 2, "grid": false, "labels": false, "title": null}},
  "y": {"field": "v", "type": "quantitative", "scale": {"type": "log", "domain": [0.002, 9.4], "nice": false},
   "axis": {"orient": "right", "ticks": false, "domain": true, "domainColor": "black", "domainWidth": 2, "grid": false, "labels": false, "title": null}},
  "color": {"field": "k", "type": "nominal", "scale": {"domain": ["s","d","q","h","t"], "range": ["#000000","#ff0000","#129c12","#0000ff","#ff00ff"]}, "legend": null}
 }},
{"data": {"values": [{}]},
 "mark": {"type": "rule", "strokeDash": [4, 3], "strokeWidth": 1.8, "color": "black"},
 "encoding": {
  "x": {"datum": 76.5, "type": "quantitative", "scale": {"domain": [0, 200], "nice": false, "zero": false}, "axis": null},
  "y": {"datum": 0.197, "type": "quantitative", "scale": {"type": "log", "domain": [0.002, 9.4], "nice": false}, "axis": null},
  "y2": {"datum": 0.002}
 }},
{"data": {"values": [{}]},
 "mark": {"type": "text", "text": "Offline Trigger: V0AND", "align": "left", "baseline": "middle", "font": "Liberation Sans", "fontSize": 20.5, "fontWeight": "bold", "color": "black"},
 "encoding": {
  "x": {"datum": 20.4, "type": "quantitative", "scale": {"domain": [0, 200], "nice": false, "zero": false}, "axis": null},
  "y": {"datum": 3.6, "type": "quantitative", "scale": {"type": "log", "domain": [0.002, 9.4], "nice": false}, "axis": null}
 }},
{"data": {"name": "pts"}, "transform": [{"filter": "datum.p == 3"}, {"fold": ["v","a","sp"], "as": ["k", "val"]}, {"filter": "isValid(datum.val)"}],
 "mark": {"type": "point", "filled": false, "size": 125, "strokeWidth": 1.7, "opacity": 1},
 "encoding": {
  "x": {"field": "x", "type": "quantitative", "scale": {"domain": [0, 200], "nice": false, "zero": false}, "axis": null},
  "y": {"field": "val", "type": "quantitative", "scale": {"type": "log", "domain": [0.002, 9.4], "nice": false}, "axis": null},
  "shape": {"field": "k", "type": "nominal", "scale": {"domain": ["a","v","sp"], "range": ["circle","square","triangle-up"]}, "legend": null},
  "stroke": {"field": "k", "type": "nominal", "scale": {"domain": ["a","v","sp"], "range": ["black","red","blue"]}, "legend": null}
 }},
{"data": {"values": [{}]},
 "mark": {"type": "text", "text": "ALICE Performance", "align": "right", "baseline": "middle", "font": "Liberation Sans", "fontSize": 27, "fontWeight": "bold", "color": "#ff1a1a"},
 "encoding": {
  "x": {"datum": 191.4, "type": "quantitative", "scale": {"domain": [0, 200], "nice": false, "zero": false}, "axis": null},
  "y": {"datum": 0.443, "type": "quantitative", "scale": {"type": "log", "domain": [0.002, 9.4], "nice": false}, "axis": null}
 }},
{"data": {"values": [{}]},
 "mark": {"type": "text", "text": "16/05/2011", "align": "right", "baseline": "middle", "font": "Liberation Sans", "fontSize": 22, "fontWeight": "bold", "color": "#ff1a1a"},
 "encoding": {
  "x": {"datum": 183.3, "type": "quantitative", "scale": {"domain": [0, 200], "nice": false, "zero": false}, "axis": null},
  "y": {"datum": 0.244, "type": "quantitative", "scale": {"type": "log", "domain": [0.002, 9.4], "nice": false}, "axis": null}
 }},
{"data": {"values": [{}]},
 "mark": {"type": "point", "shape": "M0.924,0.268L0.383,0.647L-0.383,0.647L-0.924,0.268L-0.924,-0.268L-0.383,-0.647L0.383,-0.647L0.924,-0.268Z", "size": 4356, "filled": true, "fill": "#7a6491", "stroke": "#22409c", "strokeWidth": 4, "opacity": 1},
 "encoding": {
  "x": {"datum": 158.6, "type": "quantitative", "scale": {"domain": [0, 200], "nice": false, "zero": false}, "axis": null},
  "y": {"datum": 0.0101, "type": "quantitative", "scale": {"type": "log", "domain": [0.002, 9.4], "nice": false}, "axis": null}
 }},
{"data": {"values": [{}]},
 "mark": {"type": "point", "shape": "circle", "size": 160, "filled": true, "fill": "#f2a541", "opacity": 0.9},
 "encoding": {
  "x": {"datum": 158.6, "type": "quantitative", "scale": {"domain": [0, 200], "nice": false, "zero": false}, "axis": null},
  "y": {"datum": 0.0101, "type": "quantitative", "scale": {"type": "log", "domain": [0.002, 9.4], "nice": false}, "axis": null}
 }},
{"data": {"values": [{}]},
 "mark": {"type": "text", "text": "ALICE", "align": "center", "baseline": "middle", "font": "Liberation Sans", "fontSize": 20, "fontWeight": "bold", "color": "#f5a03c"},
 "encoding": {
  "x": {"datum": 159, "type": "quantitative", "scale": {"domain": [0, 200], "nice": false, "zero": false}, "axis": null},
  "y": {"datum": 0.00478, "type": "quantitative", "scale": {"type": "log", "domain": [0.002, 9.4], "nice": false}, "axis": null}
 }},
{"data": {"values": [{}]},
 "mark": {"type": "point", "shape": "M0,-1C0.368,-1,0.667,-0.552,0.667,0C0.667,0.552,0.368,1,0,1C-0.368,1,-0.667,0.552,-0.667,0C-0.667,-0.552,-0.368,-1,0,-1Z", "size": 24336, "filled": false, "stroke": "#385d8a", "strokeWidth": 4.5, "opacity": 1},
 "encoding": {
  "x": {"datum": 15.6, "type": "quantitative", "scale": {"domain": [0, 200], "nice": false, "zero": false}, "axis": null},
  "y": {"datum": 0.0654, "type": "quantitative", "scale": {"type": "log", "domain": [0.002, 9.4], "nice": false}, "axis": null}
 }},
{"data": {"name": "xt"}, "mark": {"type": "tick", "orient": "vertical", "thickness": 2, "color": "black", "opacity": 1, "clip": true},
 "encoding": {
  "x": {"field": "x", "type": "quantitative", "scale": {"domain": [0, 200], "nice": false, "zero": false}, "axis": null},
  "y": {"datum": 0.002, "type": "quantitative", "scale": {"type": "log", "domain": [0.002, 9.4], "nice": false}, "axis": null},
  "size": {"field": "m", "type": "nominal", "scale": {"domain": ["xM","xm","yM","ym"], "range": [24, 12, 30, 15]}, "legend": null}
 }},
{"data": {"name": "xt"}, "mark": {"type": "tick", "orient": "vertical", "thickness": 2, "color": "black", "opacity": 1, "clip": true},
 "encoding": {
  "x": {"field": "x", "type": "quantitative", "scale": {"domain": [0, 200], "nice": false, "zero": false}, "axis": null},
  "y": {"datum": 9.4, "type": "quantitative", "scale": {"type": "log", "domain": [0.002, 9.4], "nice": false}, "axis": null},
  "size": {"field": "m", "type": "nominal", "scale": {"domain": ["xM","xm","yM","ym"], "range": [24, 12, 30, 15]}, "legend": null}
 }},
{"data": {"name": "yt"}, "mark": {"type": "tick", "orient": "horizontal", "thickness": 2, "color": "black", "opacity": 1, "clip": true},
 "encoding": {
  "y": {"field": "y", "type": "quantitative", "scale": {"type": "log", "domain": [0.002, 9.4], "nice": false}, "axis": null},
  "x": {"datum": 0, "type": "quantitative", "scale": {"domain": [0, 200], "nice": false, "zero": false}, "axis": null},
  "size": {"field": "m", "type": "nominal", "scale": {"domain": ["xM","xm","yM","ym"], "range": [24, 12, 30, 15]}, "legend": null}
 }},
{"data": {"name": "yt"}, "mark": {"type": "tick", "orient": "horizontal", "thickness": 2, "color": "black", "opacity": 1, "clip": true},
 "encoding": {
  "y": {"field": "y", "type": "quantitative", "scale": {"type": "log", "domain": [0.002, 9.4], "nice": false}, "axis": null},
  "x": {"datum": 200, "type": "quantitative", "scale": {"domain": [0, 200], "nice": false, "zero": false}, "axis": null},
  "size": {"field": "m", "type": "nominal", "scale": {"domain": ["xM","xm","yM","ym"], "range": [24, 12, 30, 15]}, "legend": null}
 }}
],
"resolve": {"axis": {"x": "independent", "y": "independent"}}
},
{
"width": 395, "height": 393,
"layer": [
{"data": {"name": "hist"}, "transform": [{"filter": "datum.p == 4"}, {"fold": ["q"], "as": ["k", "v"]}],
 "mark": {"type": "line", "interpolate": "step-after", "strokeWidth": 3, "clip": true},
 "encoding": {
  "x": {"field": "x", "type": "quantitative", "scale": {"domain": [0, 200], "nice": false, "zero": false},
   "axis": {"orient": "bottom", "values": [0,20,40,60,80,100,120,140,160,180,200], "ticks": false, "domain": true, "domainColor": "black", "domainWidth": 2, "grid": false,
    "labelExpr": "datum.value == 200 ? '20' : datum.label", "labelPadding": 11, "labelFont": "Liberation Sans", "labelFontWeight": "bold", "labelFontSize": 15, "labelColor": "black", "labelOverlap": false, "labelFlush": false, "labelBound": false,
    "title": "ALI-PERF-1852", "titleFont": "Liberation Mono", "titleFontSize": 29, "titleFontWeight": "normal", "titleColor": "#858585", "titleAnchor": "start", "titleAlign": "left", "titleBaseline": "alphabetic", "titleX": -94, "titleY": 129}},
  "y": {"field": "v", "type": "quantitative", "scale": {"type": "log", "domain": [0.002, 0.4], "nice": false},
   "axis": {"orient": "left", "values": [0.01, 0.1], "ticks": false, "domain": true, "domainColor": "black", "domainWidth": 2, "grid": false,
    "labelExpr": "datum.value == 0.1 ? '10⁻¹' : '10⁻²'", "labelPadding": 7, "labelFont": "Liberation Sans", "labelFontWeight": "bold", "labelFontSize": 22, "labelColor": "black", "labelOverlap": false, "labelFlush": false, "labelBound": false, "title": null}},
  "color": {"field": "k", "type": "nominal", "scale": {"domain": ["s","d","q","h","t"], "range": ["#000000","#ff0000","#129c12","#0000ff","#ff00ff"]}, "legend": null}
 }},
{"data": {"name": "hist"}, "transform": [{"filter": "datum.p == 4"}, {"fold": ["s","d","h","t"], "as": ["k", "v"]}],
 "mark": {"type": "line", "interpolate": "step-after", "strokeWidth": 3, "clip": true},
 "encoding": {
  "x": {"field": "x", "type": "quantitative", "scale": {"domain": [0, 200], "nice": false, "zero": false},
   "axis": {"orient": "top", "ticks": false, "domain": true, "domainColor": "black", "domainWidth": 2, "grid": false, "labels": false, "title": null}},
  "y": {"field": "v", "type": "quantitative", "scale": {"type": "log", "domain": [0.002, 0.4], "nice": false},
   "axis": {"orient": "right", "ticks": false, "domain": true, "domainColor": "black", "domainWidth": 2, "grid": false, "labels": false, "title": null}},
  "color": {"field": "k", "type": "nominal", "scale": {"domain": ["s","d","q","h","t"], "range": ["#000000","#ff0000","#129c12","#0000ff","#ff00ff"]}, "legend": null}
 }},
{"data": {"values": [{}]},
 "mark": {"type": "rule", "strokeDash": [4, 3], "strokeWidth": 1.8, "color": "black"},
 "encoding": {
  "x": {"datum": 76.5, "type": "quantitative", "scale": {"domain": [0, 200], "nice": false, "zero": false}, "axis": null},
  "y": {"datum": 0.186, "type": "quantitative", "scale": {"type": "log", "domain": [0.002, 0.4], "nice": false}, "axis": null},
  "y2": {"datum": 0.002}
 }},
{"data": {"values": [{}]},
 "mark": {"type": "text", "text": "Offline Trigger: V0AND + SPD", "align": "left", "baseline": "middle", "font": "Liberation Sans", "fontSize": 23, "fontWeight": "bold", "color": "black"},
 "encoding": {
  "x": {"datum": 19.7, "type": "quantitative", "scale": {"domain": [0, 200], "nice": false, "zero": false}, "axis": null},
  "y": {"datum": 0.286, "type": "quantitative", "scale": {"type": "log", "domain": [0.002, 0.4], "nice": false}, "axis": null}
 }},
{"data": {"name": "pts"}, "transform": [{"filter": "datum.p == 4"}, {"fold": ["v","a","sp"], "as": ["k", "val"]}, {"filter": "isValid(datum.val)"}],
 "mark": {"type": "point", "filled": false, "size": 125, "strokeWidth": 1.7, "opacity": 1},
 "encoding": {
  "x": {"field": "x", "type": "quantitative", "scale": {"domain": [0, 200], "nice": false, "zero": false}, "axis": null},
  "y": {"field": "val", "type": "quantitative", "scale": {"type": "log", "domain": [0.002, 0.4], "nice": false}, "axis": null},
  "shape": {"field": "k", "type": "nominal", "scale": {"domain": ["a","v","sp"], "range": ["circle","square","triangle-up"]}, "legend": null},
  "stroke": {"field": "k", "type": "nominal", "scale": {"domain": ["a","v","sp"], "range": ["black","red","blue"]}, "legend": null}
 }},
{"data": {"name": "xt"}, "mark": {"type": "tick", "orient": "vertical", "thickness": 2, "color": "black", "opacity": 1, "clip": true},
 "encoding": {
  "x": {"field": "x", "type": "quantitative", "scale": {"domain": [0, 200], "nice": false, "zero": false}, "axis": null},
  "y": {"datum": 0.002, "type": "quantitative", "scale": {"type": "log", "domain": [0.002, 0.4], "nice": false}, "axis": null},
  "size": {"field": "m", "type": "nominal", "scale": {"domain": ["xM","xm","yM","ym"], "range": [24, 12, 30, 15]}, "legend": null}
 }},
{"data": {"name": "xt"}, "mark": {"type": "tick", "orient": "vertical", "thickness": 2, "color": "black", "opacity": 1, "clip": true},
 "encoding": {
  "x": {"field": "x", "type": "quantitative", "scale": {"domain": [0, 200], "nice": false, "zero": false}, "axis": null},
  "y": {"datum": 0.4, "type": "quantitative", "scale": {"type": "log", "domain": [0.002, 0.4], "nice": false}, "axis": null},
  "size": {"field": "m", "type": "nominal", "scale": {"domain": ["xM","xm","yM","ym"], "range": [24, 12, 30, 15]}, "legend": null}
 }},
{"data": {"name": "yt"}, "transform": [{"filter": "datum.y < 0.4"}], "mark": {"type": "tick", "orient": "horizontal", "thickness": 2, "color": "black", "opacity": 1, "clip": true},
 "encoding": {
  "y": {"field": "y", "type": "quantitative", "scale": {"type": "log", "domain": [0.002, 0.4], "nice": false}, "axis": null},
  "x": {"datum": 0, "type": "quantitative", "scale": {"domain": [0, 200], "nice": false, "zero": false}, "axis": null},
  "size": {"field": "m", "type": "nominal", "scale": {"domain": ["xM","xm","yM","ym"], "range": [24, 12, 30, 15]}, "legend": null}
 }},
{"data": {"name": "yt"}, "transform": [{"filter": "datum.y < 0.4"}], "mark": {"type": "tick", "orient": "horizontal", "thickness": 2, "color": "black", "opacity": 1, "clip": true},
 "encoding": {
  "y": {"field": "y", "type": "quantitative", "scale": {"type": "log", "domain": [0.002, 0.4], "nice": false}, "axis": null},
  "x": {"datum": 200, "type": "quantitative", "scale": {"domain": [0, 200], "nice": false, "zero": false}, "axis": null},
  "size": {"field": "m", "type": "nominal", "scale": {"domain": ["xM","xm","yM","ym"], "range": [24, 12, 30, 15]}, "legend": null}
 }}
],
"resolve": {"axis": {"x": "independent", "y": "independent"}}
},
{
"width": 372, "height": 393,
"layer": [
{"data": {"name": "hist"}, "transform": [{"filter": "datum.p == 5"}, {"fold": ["q"], "as": ["k", "v"]}],
 "mark": {"type": "line", "interpolate": "step-after", "strokeWidth": 3, "clip": true},
 "encoding": {
  "x": {"field": "x", "type": "quantitative", "scale": {"domain": [0, 200], "nice": false, "zero": false},
   "axis": {"orient": "bottom", "values": [20,40,60,80,100,120,140,160,180,200], "ticks": false, "domain": true, "domainColor": "black", "domainWidth": 2, "grid": false,
    "labelExpr": "datum.value == 200 ? '20' : datum.label", "labelPadding": 11, "labelFont": "Liberation Sans", "labelFontWeight": "bold", "labelFontSize": 15, "labelColor": "black", "labelOverlap": false, "labelFlush": false, "labelBound": false, "title": null}},
  "y": {"field": "v", "type": "quantitative", "scale": {"type": "log", "domain": [0.002, 0.4], "nice": false},
   "axis": {"orient": "left", "ticks": false, "domain": true, "domainColor": "black", "domainWidth": 2, "grid": false, "labels": false, "title": null}},
  "color": {"field": "k", "type": "nominal", "scale": {"domain": ["s","d","q","h","t"], "range": ["#000000","#ff0000","#129c12","#0000ff","#ff00ff"]}, "legend": null}
 }},
{"data": {"name": "hist"}, "transform": [{"filter": "datum.p == 5"}, {"fold": ["s","d","h","t"], "as": ["k", "v"]}],
 "mark": {"type": "line", "interpolate": "step-after", "strokeWidth": 3, "clip": true},
 "encoding": {
  "x": {"field": "x", "type": "quantitative", "scale": {"domain": [0, 200], "nice": false, "zero": false},
   "axis": {"orient": "top", "ticks": false, "domain": true, "domainColor": "black", "domainWidth": 2, "grid": false, "labels": false, "title": null}},
  "y": {"field": "v", "type": "quantitative", "scale": {"type": "log", "domain": [0.002, 0.4], "nice": false},
   "axis": {"orient": "right", "ticks": false, "domain": true, "domainColor": "black", "domainWidth": 2, "grid": false, "labels": false, "title": null}},
  "color": {"field": "k", "type": "nominal", "scale": {"domain": ["s","d","q","h","t"], "range": ["#000000","#ff0000","#129c12","#0000ff","#ff00ff"]}, "legend": null}
 }},
{"data": {"values": [{}]},
 "mark": {"type": "rule", "strokeDash": [4, 3], "strokeWidth": 1.8, "color": "black"},
 "encoding": {
  "x": {"datum": 76.5, "type": "quantitative", "scale": {"domain": [0, 200], "nice": false, "zero": false}, "axis": null},
  "y": {"datum": 0.186, "type": "quantitative", "scale": {"type": "log", "domain": [0.002, 0.4], "nice": false}, "axis": null},
  "y2": {"datum": 0.002}
 }},
{"data": {"values": [{}]},
 "mark": {"type": "text", "text": "Offline Trigger: V0AND + TPC", "align": "left", "baseline": "middle", "font": "Liberation Sans", "fontSize": 20.5, "fontWeight": "bold", "color": "black"},
 "encoding": {
  "x": {"datum": 21, "type": "quantitative", "scale": {"domain": [0, 200], "nice": false, "zero": false}, "axis": null},
  "y": {"datum": 0.286, "type": "quantitative", "scale": {"type": "log", "domain": [0.002, 0.4], "nice": false}, "axis": null}
 }},
{"data": {"name": "pts"}, "transform": [{"filter": "datum.p == 5"}, {"fold": ["v","a","sp"], "as": ["k", "val"]}, {"filter": "isValid(datum.val)"}],
 "mark": {"type": "point", "filled": false, "size": 125, "strokeWidth": 1.7, "opacity": 1},
 "encoding": {
  "x": {"field": "x", "type": "quantitative", "scale": {"domain": [0, 200], "nice": false, "zero": false}, "axis": null},
  "y": {"field": "val", "type": "quantitative", "scale": {"type": "log", "domain": [0.002, 0.4], "nice": false}, "axis": null},
  "shape": {"field": "k", "type": "nominal", "scale": {"domain": ["a","v","sp"], "range": ["circle","square","triangle-up"]}, "legend": null},
  "stroke": {"field": "k", "type": "nominal", "scale": {"domain": ["a","v","sp"], "range": ["black","red","blue"]}, "legend": null}
 }},
{"data": {"values": [{}]},
 "mark": {"type": "text", "text": "90% of total\ncross section", "lineBreak": "\n", "lineHeight": 15, "align": "left", "baseline": "alphabetic", "font": "Liberation Sans", "fontSize": 18, "fontWeight": "bold", "color": "#111111"},
 "encoding": {
  "x": {"datum": 80.1, "type": "quantitative", "scale": {"domain": [0, 200], "nice": false, "zero": false}, "axis": null},
  "y": {"datum": 0.0306, "type": "quantitative", "scale": {"type": "log", "domain": [0.002, 0.4], "nice": false}, "axis": null}
 }},
{"data": {"name": "xt"}, "mark": {"type": "tick", "orient": "vertical", "thickness": 2, "color": "black", "opacity": 1, "clip": true},
 "encoding": {
  "x": {"field": "x", "type": "quantitative", "scale": {"domain": [0, 200], "nice": false, "zero": false}, "axis": null},
  "y": {"datum": 0.002, "type": "quantitative", "scale": {"type": "log", "domain": [0.002, 0.4], "nice": false}, "axis": null},
  "size": {"field": "m", "type": "nominal", "scale": {"domain": ["xM","xm","yM","ym"], "range": [24, 12, 30, 15]}, "legend": null}
 }},
{"data": {"name": "xt"}, "mark": {"type": "tick", "orient": "vertical", "thickness": 2, "color": "black", "opacity": 1, "clip": true},
 "encoding": {
  "x": {"field": "x", "type": "quantitative", "scale": {"domain": [0, 200], "nice": false, "zero": false}, "axis": null},
  "y": {"datum": 0.4, "type": "quantitative", "scale": {"type": "log", "domain": [0.002, 0.4], "nice": false}, "axis": null},
  "size": {"field": "m", "type": "nominal", "scale": {"domain": ["xM","xm","yM","ym"], "range": [24, 12, 30, 15]}, "legend": null}
 }},
{"data": {"name": "yt"}, "transform": [{"filter": "datum.y < 0.4"}], "mark": {"type": "tick", "orient": "horizontal", "thickness": 2, "color": "black", "opacity": 1, "clip": true},
 "encoding": {
  "y": {"field": "y", "type": "quantitative", "scale": {"type": "log", "domain": [0.002, 0.4], "nice": false}, "axis": null},
  "x": {"datum": 0, "type": "quantitative", "scale": {"domain": [0, 200], "nice": false, "zero": false}, "axis": null},
  "size": {"field": "m", "type": "nominal", "scale": {"domain": ["xM","xm","yM","ym"], "range": [24, 12, 30, 15]}, "legend": null}
 }},
{"data": {"name": "yt"}, "transform": [{"filter": "datum.y < 0.4"}], "mark": {"type": "tick", "orient": "horizontal", "thickness": 2, "color": "black", "opacity": 1, "clip": true},
 "encoding": {
  "y": {"field": "y", "type": "quantitative", "scale": {"type": "log", "domain": [0.002, 0.4], "nice": false}, "axis": null},
  "x": {"datum": 200, "type": "quantitative", "scale": {"domain": [0, 200], "nice": false, "zero": false}, "axis": null},
  "size": {"field": "m", "type": "nominal", "scale": {"domain": ["xM","xm","yM","ym"], "range": [24, 12, 30, 15]}, "legend": null}
 }}
],
"resolve": {"axis": {"x": "independent", "y": "independent"}}
},
{
"width": 372, "height": 393,
"layer": [
{"data": {"name": "hist"}, "transform": [{"filter": "datum.p == 6"}, {"fold": ["q"], "as": ["k", "v"]}],
 "mark": {"type": "line", "interpolate": "step-after", "strokeWidth": 3, "clip": true},
 "encoding": {
  "x": {"field": "x", "type": "quantitative", "scale": {"domain": [0, 200], "nice": false, "zero": false},
   "axis": {"orient": "bottom", "values": [20,40,60,80,100,120,140,160,180,200], "ticks": false, "domain": true, "domainColor": "black", "domainWidth": 2, "grid": false,
    "labelExpr": "datum.value == 200 ? '20' : datum.label", "labelPadding": 11, "labelFont": "Liberation Sans", "labelFontWeight": "bold", "labelFontSize": 15, "labelColor": "black", "labelOverlap": false, "labelFlush": false, "labelBound": false,
    "title": "VZERO amplitude (a.u.)", "titleFont": "Liberation Sans", "titleFontSize": 28, "titleFontWeight": "bold", "titleColor": "black", "titleAnchor": "end", "titleAlign": "right", "titleBaseline": "alphabetic", "titleX": 347, "titleY": 71}},
  "y": {"field": "v", "type": "quantitative", "scale": {"type": "log", "domain": [0.002, 0.4], "nice": false},
   "axis": {"orient": "left", "ticks": false, "domain": true, "domainColor": "black", "domainWidth": 2, "grid": false, "labels": false, "title": null}},
  "color": {"field": "k", "type": "nominal", "scale": {"domain": ["s","d","q","h","t"], "range": ["#000000","#ff0000","#129c12","#0000ff","#ff00ff"]},
   "legend": {"orient": "none", "legendX": 154, "legendY": 238, "title": null, "padding": 0, "symbolType": "stroke", "symbolSize": 1100, "symbolStrokeWidth": 3, "labelExpr": "datum.label == 's' ? 'SLIGHT single (24.2b)' : datum.label == 'd' ? 'SLIGHT double (240mb)' : datum.label == 'q' ? 'QED (92kb)' : datum.label == 'h' ? 'HIJING (7.66b)' : 'sum'", "labelFont": "Liberation Sans", "labelFontSize": 14, "labelFontWeight": "bold", "labelColor": "#222222", "labelOffset": 9, "labelLimit": 300, "rowPadding": -8}}
 }},
{"data": {"name": "hist"}, "transform": [{"filter": "datum.p == 6"}, {"fold": ["s","d","h","t"], "as": ["k", "v"]}],
 "mark": {"type": "line", "interpolate": "step-after", "strokeWidth": 3, "clip": true},
 "encoding": {
  "x": {"field": "x", "type": "quantitative", "scale": {"domain": [0, 200], "nice": false, "zero": false},
   "axis": {"orient": "top", "ticks": false, "domain": true, "domainColor": "black", "domainWidth": 2, "grid": false, "labels": false, "title": null}},
  "y": {"field": "v", "type": "quantitative", "scale": {"type": "log", "domain": [0.002, 0.4], "nice": false},
   "axis": {"orient": "right", "ticks": false, "domain": true, "domainColor": "black", "domainWidth": 2, "grid": false, "labels": false, "title": null}},
  "color": {"field": "k", "type": "nominal", "scale": {"domain": ["s","d","q","h","t"], "range": ["#000000","#ff0000","#129c12","#0000ff","#ff00ff"]},
   "legend": {"orient": "none", "legendX": 154, "legendY": 238, "title": null, "padding": 0, "symbolType": "stroke", "symbolSize": 1100, "symbolStrokeWidth": 3, "labelExpr": "datum.label == 's' ? 'SLIGHT single (24.2b)' : datum.label == 'd' ? 'SLIGHT double (240mb)' : datum.label == 'q' ? 'QED (92kb)' : datum.label == 'h' ? 'HIJING (7.66b)' : 'sum'", "labelFont": "Liberation Sans", "labelFontSize": 14, "labelFontWeight": "bold", "labelColor": "#222222", "labelOffset": 9, "labelLimit": 300, "rowPadding": -8}}
 }},
{"data": {"values": [{}]},
 "mark": {"type": "rule", "strokeDash": [4, 3], "strokeWidth": 1.8, "color": "black"},
 "encoding": {
  "x": {"datum": 76.5, "type": "quantitative", "scale": {"domain": [0, 200], "nice": false, "zero": false}, "axis": null},
  "y": {"datum": 0.186, "type": "quantitative", "scale": {"type": "log", "domain": [0.002, 0.4], "nice": false}, "axis": null},
  "y2": {"datum": 0.002}
 }},
{"data": {"name": "pts"}, "transform": [{"filter": "datum.p == 6"}, {"fold": ["v","a","sp"], "as": ["k", "val"]}, {"filter": "isValid(datum.val)"}],
 "mark": {"type": "point", "filled": false, "size": 125, "strokeWidth": 1.7, "opacity": 1},
 "encoding": {
  "x": {"field": "x", "type": "quantitative", "scale": {"domain": [0, 200], "nice": false, "zero": false}, "axis": null},
  "y": {"field": "val", "type": "quantitative", "scale": {"type": "log", "domain": [0.002, 0.4], "nice": false}, "axis": null},
  "shape": {"field": "k", "type": "nominal", "scale": {"domain": ["a","v","sp"], "range": ["circle","square","triangle-up"]}, "legend": null},
  "stroke": {"field": "k", "type": "nominal", "scale": {"domain": ["a","v","sp"], "range": ["black","red","blue"]}, "legend": null}
 }},
{"data": {"name": "xt"}, "mark": {"type": "tick", "orient": "vertical", "thickness": 2, "color": "black", "opacity": 1, "clip": true},
 "encoding": {
  "x": {"field": "x", "type": "quantitative", "scale": {"domain": [0, 200], "nice": false, "zero": false}, "axis": null},
  "y": {"datum": 0.002, "type": "quantitative", "scale": {"type": "log", "domain": [0.002, 0.4], "nice": false}, "axis": null},
  "size": {"field": "m", "type": "nominal", "scale": {"domain": ["xM","xm","yM","ym"], "range": [24, 12, 30, 15]}, "legend": null}
 }},
{"data": {"name": "xt"}, "mark": {"type": "tick", "orient": "vertical", "thickness": 2, "color": "black", "opacity": 1, "clip": true},
 "encoding": {
  "x": {"field": "x", "type": "quantitative", "scale": {"domain": [0, 200], "nice": false, "zero": false}, "axis": null},
  "y": {"datum": 0.4, "type": "quantitative", "scale": {"type": "log", "domain": [0.002, 0.4], "nice": false}, "axis": null},
  "size": {"field": "m", "type": "nominal", "scale": {"domain": ["xM","xm","yM","ym"], "range": [24, 12, 30, 15]}, "legend": null}
 }},
{"data": {"name": "yt"}, "transform": [{"filter": "datum.y < 0.4"}], "mark": {"type": "tick", "orient": "horizontal", "thickness": 2, "color": "black", "opacity": 1, "clip": true},
 "encoding": {
  "y": {"field": "y", "type": "quantitative", "scale": {"type": "log", "domain": [0.002, 0.4], "nice": false}, "axis": null},
  "x": {"datum": 0, "type": "quantitative", "scale": {"domain": [0, 200], "nice": false, "zero": false}, "axis": null},
  "size": {"field": "m", "type": "nominal", "scale": {"domain": ["xM","xm","yM","ym"], "range": [24, 12, 30, 15]}, "legend": null}
 }},
{"data": {"name": "yt"}, "transform": [{"filter": "datum.y < 0.4"}], "mark": {"type": "tick", "orient": "horizontal", "thickness": 2, "color": "black", "opacity": 1, "clip": true},
 "encoding": {
  "y": {"field": "y", "type": "quantitative", "scale": {"type": "log", "domain": [0.002, 0.4], "nice": false}, "axis": null},
  "x": {"datum": 200, "type": "quantitative", "scale": {"domain": [0, 200], "nice": false, "zero": false}, "axis": null},
  "size": {"field": "m", "type": "nominal", "scale": {"domain": ["xM","xm","yM","ym"], "range": [24, 12, 30, 15]}, "legend": null}
 }},
{"data": {"values": [{}]},
 "mark": {"type": "text", "text": "Offline Trigger: V0AND + ZDC", "align": "left", "baseline": "middle", "font": "Liberation Sans", "fontSize": 20.5, "fontWeight": "bold", "color": "black"},
 "encoding": {
  "x": {"datum": 21, "type": "quantitative", "scale": {"domain": [0, 200], "nice": false, "zero": false}, "axis": null},
  "y": {"datum": 0.286, "type": "quantitative", "scale": {"type": "log", "domain": [0.002, 0.4], "nice": false}, "axis": null}
 }},
{"data": {"values": [{"x0": 200, "y0": 0.1025, "x1": -162.9, "y1": 4.975}, {"x0": 200, "y0": 0.134, "x1": 16.7, "y1": 1.24}]},
 "mark": {"type": "rule", "color": "#4f81bd", "strokeWidth": 5},
 "encoding": {
  "x": {"field": "x0", "type": "quantitative", "scale": {"domain": [0, 200], "nice": false, "zero": false}, "axis": null},
  "y": {"field": "y0", "type": "quantitative", "scale": {"type": "log", "domain": [0.002, 0.4], "nice": false}, "axis": null},
  "x2": {"field": "x1"},
  "y2": {"field": "y1"}
 }},
{"data": {"values": [{"x1": -162.9, "y1": 4.975}]},
 "mark": {"type": "point", "shape": "M-1,-0.75L0,0L-1,0.75", "angle": 203.1, "size": 1800, "filled": false, "stroke": "#4f81bd", "strokeWidth": 5, "opacity": 1},
 "encoding": {
  "x": {"field": "x1", "type": "quantitative", "scale": {"domain": [0, 200], "nice": false, "zero": false}, "axis": null},
  "y": {"field": "y1", "type": "quantitative", "scale": {"type": "log", "domain": [0.002, 0.4], "nice": false}, "axis": null}
 }},
{"data": {"values": [{"x1": 16.7, "y1": 1.24}]},
 "mark": {"type": "point", "shape": "M-1,-0.75L0,0L-1,0.75", "angle": 205.8, "size": 1800, "filled": false, "stroke": "#4f81bd", "strokeWidth": 5, "opacity": 1},
 "encoding": {
  "x": {"field": "x1", "type": "quantitative", "scale": {"domain": [0, 200], "nice": false, "zero": false}, "axis": null},
  "y": {"field": "y1", "type": "quantitative", "scale": {"type": "log", "domain": [0.002, 0.4], "nice": false}, "axis": null}
 }}
],
"resolve": {"axis": {"x": "independent", "y": "independent"}}
}
]
}
